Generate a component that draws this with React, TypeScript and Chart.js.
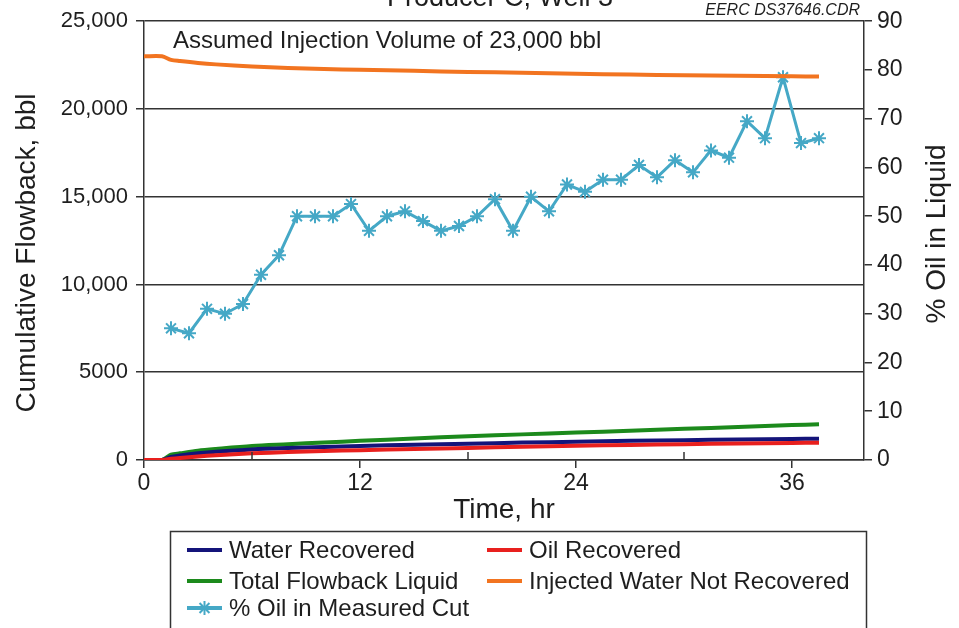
import React, { useEffect, useRef } from "react";
import { Chart, registerables } from "chart.js";

Chart.register(...registerables);

// ---------- data ----------
const cumTimes = [0, 1, 1.5, 2, 3, 4, 6, 8, 10, 12, 15, 18, 21, 24, 27, 30, 33, 36, 37.5];
const waterRecovered = [0, 0, 180, 260, 380, 470, 600, 680, 740, 800, 870, 930, 990, 1040, 1090, 1130, 1170, 1200, 1210];
const oilRecovered = [0, 0, 70, 120, 200, 270, 380, 450, 510, 560, 630, 690, 750, 810, 860, 900, 940, 970, 985];
const totalFlowback = [0, 0, 300, 380, 530, 630, 800, 900, 1000, 1090, 1230, 1360, 1460, 1560, 1670, 1780, 1880, 1990, 2040];
const injectedNotRecovered = [23000, 23000, 22800, 22730, 22620, 22540, 22420, 22340, 22280, 22230, 22170, 22110, 22060, 22010, 21960, 21920, 21890, 21860, 21850];

const cutTimes = [1.5, 2.5, 3.5, 4.5, 5.5, 6.5, 7.5, 8.5, 9.5, 10.5, 11.5, 12.5, 13.5, 14.5, 15.5, 16.5, 17.5, 18.5, 19.5, 20.5, 21.5, 22.5, 23.5, 24.5, 25.5, 26.5, 27.5, 28.5, 29.5, 30.5, 31.5, 32.5, 33.5, 34.5, 35.5, 36.5, 37.5];
const pctOilInCut = [27, 26, 31, 30, 32, 38, 42, 50, 50, 50, 52.5, 47, 50, 51, 49, 47, 48, 50, 53.5, 47, 54, 51, 56.5, 55, 57.5, 57.5, 60.5, 58, 61.5, 59, 63.5, 62, 69.5, 66, 78.5, 65, 66];

const xLabeledTicks = [0, 12, 24, 36];
const xMinorTicks = [6, 18, 30];

const titleText = "Producer C, Well 3";
const sourceText = "EERC DS37646.CDR";
const noteText = "Assumed Injection Volume of 23,000 bbl";
const xTitle = "Time, hr";
const yTitle = "Cumulative Flowback, bbl";
const y1Title = "% Oil in Liquid";

const seriesNames = ["Water Recovered", "Oil Recovered", "Total Flowback Liquid", "Injected Water Not Recovered", "% Oil in Measured Cut"];

// ---------- style ----------
const FONT = '"Liberation Sans", Arial, Helvetica, sans-serif';
const TEXT = "#1e1e1e";
const AXIS = "#333333";
const C_WATER = "#14147a";
const C_OIL = "#e8201e";
const C_TOTAL = "#1c8a1c";
const C_INJ = "#f27420";
const C_PCT = "#45a8c6";

function pairs(xs: number[], ys: number[]) {
  return xs.map((x, i) => ({ x, y: ys[i] }));
}

function drawStar(ctx: CanvasRenderingContext2D, cx: number, cy: number, r: number) {
  for (let k = 0; k < 4; k++) {
    const a = (k * Math.PI) / 4;
    ctx.beginPath();
    ctx.moveTo(cx - r * Math.cos(a), cy - r * Math.sin(a));
    ctx.lineTo(cx + r * Math.cos(a), cy + r * Math.sin(a));
    ctx.stroke();
  }
}

const decorPlugin = {
  id: "decor",
  afterDraw(chart: any) {
    const { ctx, chartArea, scales } = chart;
    const xs = scales.x;
    ctx.save();

    // minor inside ticks on x axis
    ctx.strokeStyle = AXIS;
    ctx.lineWidth = 1.5;
    for (const v of xMinorTicks) {
      const px = xs.getPixelForValue(v);
      ctx.beginPath();
      ctx.moveTo(px, chartArea.bottom);
      ctx.lineTo(px, chartArea.bottom - 8);
      ctx.stroke();
    }

    ctx.fillStyle = TEXT;
    // chart title (cut off at the top)
    ctx.font = `27px ${FONT}`;
    ctx.textAlign = "center";
    ctx.textBaseline = "alphabetic";
    ctx.fillText(titleText, 500, 6);

    // source tag
    ctx.font = `italic 16px ${FONT}`;
    ctx.textAlign = "right";
    ctx.fillText(sourceText, chartArea.right - 4, 15);

    // note
    ctx.font = `24px ${FONT}`;
    ctx.textAlign = "left";
    ctx.fillText(noteText, 173, 48);

    // axis titles
    ctx.font = `28px ${FONT}`;
    ctx.textAlign = "center";
    ctx.textBaseline = "middle";
    ctx.fillText(xTitle, (chartArea.left + chartArea.right) / 2, 510);

    ctx.save();
    ctx.translate(27, 253);
    ctx.rotate(-Math.PI / 2);
    ctx.fillText(yTitle, 0, 0);
    ctx.restore();

    ctx.save();
    ctx.translate(937, 234);
    ctx.rotate(-Math.PI / 2);
    ctx.fillText(y1Title, 0, 0);
    ctx.restore();

    // legend box
    ctx.strokeStyle = AXIS;
    ctx.lineWidth = 1.5;
    ctx.strokeRect(170.5, 531.5, 696, 110);

    const rows = [550, 581, 608];
    const cols = [187, 487];
    const entries = [
      { name: seriesNames[0], color: C_WATER, col: 0, row: 0, star: false },
      { name: seriesNames[1], color: C_OIL, col: 1, row: 0, star: false },
      { name: seriesNames[2], color: C_TOTAL, col: 0, row: 1, star: false },
      { name: seriesNames[3], color: C_INJ, col: 1, row: 1, star: false },
      { name: seriesNames[4], color: C_PCT, col: 0, row: 2, star: true },
    ];
    ctx.font = `24px ${FONT}`;
    ctx.textAlign = "left";
    ctx.textBaseline = "middle";
    for (const e of entries) {
      const x0 = cols[e.col];
      const y0 = rows[e.row];
      ctx.strokeStyle = e.color;
      ctx.lineWidth = 4;
      ctx.beginPath();
      ctx.moveTo(x0, y0);
      ctx.lineTo(x0 + 35, y0);
      ctx.stroke();
      if (e.star) {
        ctx.lineWidth = 2;
        drawStar(ctx, x0 + 17.5, y0, 7);
      }
      ctx.fillStyle = TEXT;
      ctx.fillText(e.name, x0 + 42, y0 + 1);
    }
    ctx.restore();
  },
};

export default function App() {
  const ref = useRef<HTMLCanvasElement | null>(null);

  useEffect(() => {
    if (!ref.current) return;
    const lineBase = { pointRadius: 0, fill: false, tension: 0.3, borderWidth: 4, yAxisID: "y" };
    const chart = new Chart(ref.current, {
      type: "line",
      data: {
        datasets: [
          { ...lineBase, label: seriesNames[3], data: pairs(cumTimes, injectedNotRecovered), borderColor: C_INJ, backgroundColor: C_INJ },
          { ...lineBase, label: seriesNames[1], data: pairs(cumTimes, oilRecovered), borderColor: C_OIL, backgroundColor: C_OIL },
          { ...lineBase, label: seriesNames[0], data: pairs(cumTimes, waterRecovered), borderColor: C_WATER, backgroundColor: C_WATER },
          { ...lineBase, label: seriesNames[2], data: pairs(cumTimes, totalFlowback), borderColor: C_TOTAL, backgroundColor: C_TOTAL },
          {
            label: seriesNames[4],
            data: pairs(cutTimes, pctOilInCut),
            yAxisID: "y1",
            borderColor: C_PCT,
            backgroundColor: C_PCT,
            borderWidth: 3,
            tension: 0,
            pointStyle: "star",
            pointRadius: 7,
            pointBorderWidth: 2,
            pointBorderColor: C_PCT,
            fill: false,
          },
        ],
      },
      options: {
        animation: false,
        responsive: true,
        maintainAspectRatio: false,
        layout: { padding: { top: 18, left: 0, right: 0, bottom: 0 } },
        plugins: { legend: { display: false }, tooltip: { enabled: false }, title: { display: false } },
        scales: {
          x: {
            type: "linear",
            position: "bottom",
            min: 0,
            max: 40,
            afterFit: (s: any) => { s.height = 168; },
            ticks: {
              stepSize: 6,
              includeBounds: false,
              autoSkip: false,
              maxRotation: 0,
              padding: 2,
              color: TEXT,
              font: { family: FONT, size: 23 },
              callback: (v: any) => (xLabeledTicks.includes(Number(v)) ? String(v) : ""),
            },
            grid: {
              drawOnChartArea: false,
              drawTicks: true,
              tickLength: 8,
              lineWidth: 1.5,
              color: (c: any) => (c.tick && xLabeledTicks.includes(c.tick.value) ? AXIS : "rgba(0,0,0,0)"),
            },
            border: { display: true, color: AXIS, width: 1.5 },
          },
          y: {
            type: "linear",
            position: "left",
            min: 0,
            max: 25000,
            afterFit: (s: any) => { s.width = 144; },
            ticks: {
              stepSize: 5000,
              padding: 8,
              color: TEXT,
              font: { family: FONT, size: 22 },
              callback: (v: any) => (Number(v) >= 10000 ? Number(v).toLocaleString("en-US") : String(v)),
            },
            grid: { drawOnChartArea: true, drawTicks: true, tickLength: 8, color: AXIS, lineWidth: 1.5 },
            border: { display: true, color: AXIS, width: 1.5 },
          },
          y1: {
            type: "linear",
            position: "right",
            min: 0,
            max: 90,
            afterFit: (s: any) => { s.width = 95; },
            ticks: {
              stepSize: 10,
              padding: 5,
              color: TEXT,
              font: { family: FONT, size: 23 },
            },
            grid: { drawOnChartArea: false, drawTicks: true, tickLength: 8, color: AXIS, lineWidth: 1.5 },
            border: { display: true, color: AXIS, width: 1.5 },
          },
        },
      },
      plugins: [decorPlugin],
    } as any);
    return () => chart.destroy();
  }, []);

  return (
    <div style={{ position: "absolute", left: 0, top: 0, width: 959, height: 628, background: "#fff" }}>
      <canvas ref={ref} />
    </div>
  );
}
